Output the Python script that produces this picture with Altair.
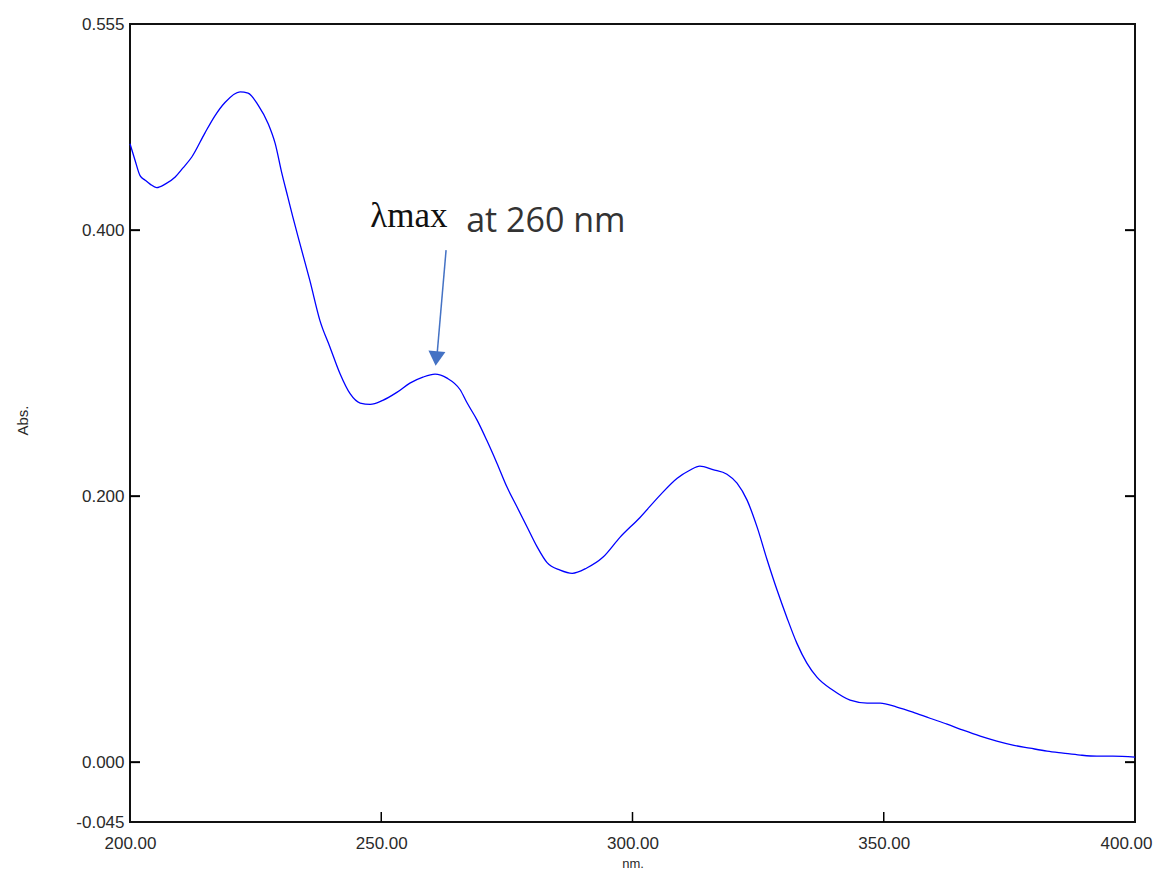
import altair as alt
import pandas as pd

# Spectrum (wavelength nm, absorbance)
wavelength = [200.0, 201.0, 202.0, 203.0, 204.0, 205.3, 207.0, 209.0, 210.5, 212.3,
              214.9, 216.9, 218.9, 221.9, 223.5, 225.5, 227.5, 228.9, 230.2, 231.4,
              232.4, 233.8, 235.8, 237.8, 239.8, 241.8, 243.8, 245.8, 247.8, 250.3,
              253.1, 255.7, 258.3, 260.7, 263.1, 265.7, 267.1, 269.1, 271.0, 273.0,
              275.0, 277.0, 279.0, 281.0, 283.0, 285.6, 288.0, 290.9, 294.1, 297.5,
              301.5, 305.5, 308.9, 311.4, 313.4, 316.0, 318.8, 320.8, 322.8, 324.8,
              326.8, 328.8, 330.7, 332.7, 334.7, 336.7, 339.9, 343.3, 346.7, 349.3,
              352.6, 355.8, 359.2, 362.6, 365.8, 369.2, 372.5, 375.7, 379.1, 382.5,
              385.7, 389.1, 392.4, 395.6, 400.0]
absorbance = [0.465, 0.4526, 0.441, 0.4376, 0.4346, 0.432, 0.4346, 0.440, 0.4466, 0.455,
              0.473, 0.486, 0.496, 0.504, 0.503, 0.494, 0.480, 0.465, 0.443, 0.425,
              0.410, 0.390, 0.362, 0.332, 0.312, 0.292, 0.277, 0.270, 0.269, 0.272,
              0.278, 0.285, 0.2895, 0.2917, 0.2887, 0.280, 0.270, 0.257, 0.242, 0.225,
              0.207, 0.192, 0.177, 0.162, 0.150, 0.1444, 0.142, 0.146, 0.154, 0.169,
              0.184, 0.2008, 0.2135, 0.2195, 0.2226, 0.220, 0.2165, 0.2098, 0.197, 0.1767,
              0.152, 0.129, 0.109, 0.0895, 0.0744, 0.0639, 0.054, 0.0466, 0.0444, 0.0444,
              0.0414, 0.0376, 0.033, 0.0286, 0.024, 0.0195, 0.0158, 0.0128, 0.0105, 0.0083,
              0.0068, 0.0053, 0.0045, 0.0045, 0.0038]

x_ticks = [200, 250, 300, 350, 400]
y_ticks = [-0.045, 0.0, 0.2, 0.4, 0.555]
inner_y_ticks = [0.0, 0.2, 0.4]
inner_x_ticks = [250, 300, 350]

# annotation (data coordinates)
label_lambda = ["λmax"]
label_lambda_x = [247.8]
label_lambda_y = [0.402]
label_at = ["at 260 nm"]
label_at_x = [266.9]
label_at_y = [0.3985]
arrow_x = [262.9]
arrow_y = [0.385]
arrow_x2 = [261.1]
arrow_y2 = [0.306]
head_x = [260.95]
head_y = [0.3035]

X_DOM = [200, 400]
Y_DOM = [-0.045, 0.555]
W, H = 1005, 798

spec = pd.DataFrame({"nm": wavelength, "abs": absorbance})

xs = alt.Scale(domain=X_DOM, nice=False, zero=False)
ys = alt.Scale(domain=Y_DOM, nice=False, zero=False)

FONT = "Liberation Sans"
LBL = "replace(format(datum.value, '%s'), '\u2212', '-')"
LAST = "datum.value == %d" % X_DOM[1]

x_axis = alt.Axis(values=x_ticks, labelExpr=LBL % ".2f", tickSize=0, domain=False, grid=False,
                  labelFont=FONT, labelFontSize=17, labelColor="#2a2a2a",
                  labelPadding=13, labelFlush=False, labelOverlap=False, labelBound=False,
                  labelAlign={"condition": {"test": LAST, "value": "right"}, "value": "center"},
                  labelOffset={"condition": {"test": LAST, "value": 17}, "value": 0},
                  title="nm.", titleFont=FONT, titleFontSize=13, titleFontWeight="normal",
                  titleColor="#2a2a2a", titleY=35, titleBaseline="top")
y_axis = alt.Axis(values=y_ticks, labelExpr=LBL % ".3f", tickSize=0, domain=False, grid=False,
                  labelFont=FONT, labelFontSize=17, labelColor="#2a2a2a",
                  labelPadding=6, labelFlush=False, labelOverlap=False, labelBound=False,
                  title="Abs.", titleFont=FONT, titleFontSize=15, titleFontWeight="normal",
                  titleColor="#2a2a2a", titleX=-108, titleY=396, titleAngle=-90,
                  titleAlign="center", titleBaseline="middle")

line = alt.Chart(spec).mark_line(color="#0000FF", strokeWidth=1.3, interpolate="monotone").encode(
    x=alt.X("nm:Q", scale=xs, axis=x_axis),
    y=alt.Y("abs:Q", scale=ys, axis=y_axis),
)

left_t = alt.Chart(pd.DataFrame({"v": inner_y_ticks})).mark_rule(color="black", strokeWidth=2).encode(
    y=alt.Y("v:Q", scale=ys), x=alt.value(0), x2=alt.value(10))
right_t = alt.Chart(pd.DataFrame({"v": inner_y_ticks})).mark_rule(color="black", strokeWidth=2).encode(
    y=alt.Y("v:Q", scale=ys), x=alt.value(W - 10), x2=alt.value(W))
bottom_t = alt.Chart(pd.DataFrame({"v": inner_x_ticks})).mark_rule(color="black", strokeWidth=1.5).encode(
    x=alt.X("v:Q", scale=xs), y=alt.value(H - 10), y2=alt.value(H))

arrow = alt.Chart(pd.DataFrame({"x": arrow_x, "y": arrow_y, "x2": arrow_x2, "y2": arrow_y2})).mark_rule(
    color="#4472C4", strokeWidth=1.5).encode(
    x=alt.X("x:Q", scale=xs), y=alt.Y("y:Q", scale=ys), x2="x2:Q", y2="y2:Q")
head = alt.Chart(pd.DataFrame({"x": head_x, "y": head_y})).mark_point(
    shape="triangle-down", filled=True, color="#4472C4", size=290, opacity=1, angle=5).encode(
    x=alt.X("x:Q", scale=xs), y=alt.Y("y:Q", scale=ys))

t1 = alt.Chart(pd.DataFrame({"t": label_lambda, "x": label_lambda_x, "y": label_lambda_y})).mark_text(
    font="Liberation Serif", fontSize=35, color="#111111", align="left", baseline="alphabetic").encode(
    x=alt.X("x:Q", scale=xs), y=alt.Y("y:Q", scale=ys), text="t:N")
t2 = alt.Chart(pd.DataFrame({"t": label_at, "x": label_at_x, "y": label_at_y})).mark_text(
    font="Open Sans", fontSize=34, color="#333333", align="left", baseline="alphabetic").encode(
    x=alt.X("x:Q", scale=xs), y=alt.Y("y:Q", scale=ys), text="t:N")

chart = alt.layer(line, left_t, right_t, bottom_t, arrow, head, t1, t2).properties(
    width=W, height=H,
    autosize=alt.AutoSizeParams(type="none"),
    padding={"left": 122, "top": 16, "right": 18, "bottom": 49},
).configure(background="white").configure_view(stroke="#111111", strokeWidth=2)

chart.save("out.html", embed_options={"renderer": "svg", "actions": False})
